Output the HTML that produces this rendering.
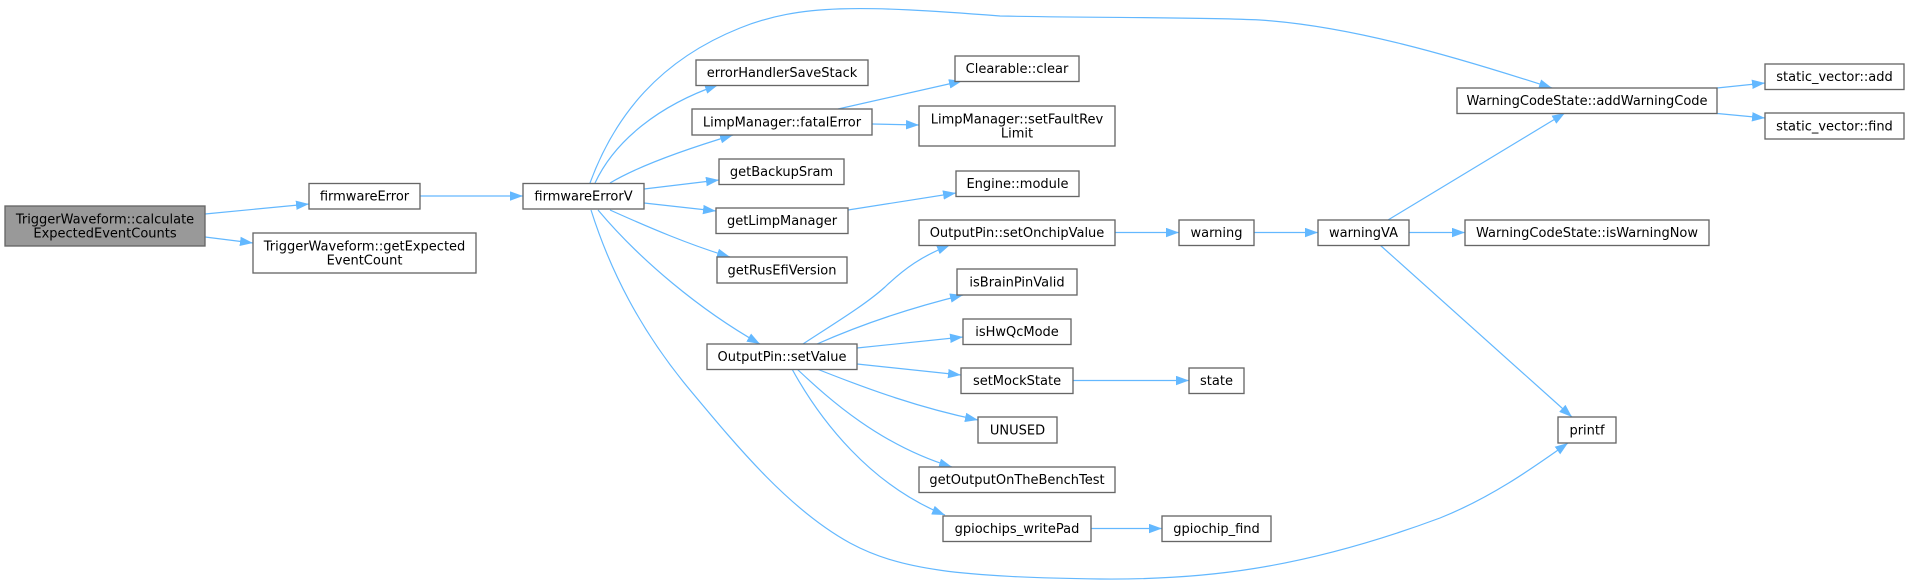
<!DOCTYPE html>
<html>
<head>
<meta charset="utf-8">
<style>
  html,body{margin:0;padding:0;background:#fff;}
  svg{display:block;}
  text{font-family:"DejaVu Sans","Liberation Sans",sans-serif;font-size:13px;fill:#000;text-anchor:middle;}
  .b{fill:#fff;stroke:#666;stroke-width:1.33;}
  .r{fill:#999;stroke:#666;stroke-width:1.33;}
  .e{fill:none;stroke:#63b8ff;stroke-width:1.2;}
</style>
</head>
<body>
<svg width="1909" height="585" viewBox="0 0 1909 585" xmlns="http://www.w3.org/2000/svg">
<defs>
  <marker id="a" markerWidth="14" markerHeight="10" refX="13" refY="4.7" orient="auto" markerUnits="userSpaceOnUse">
    <path d="M0,0 L13,4.7 L0,9.4 z" fill="#63b8ff"/>
  </marker>
</defs>

<!-- edges -->
<g class="edges">
  <path class="e" marker-end="url(#a)" d="M205,214 L309,204"/>
  <path class="e" marker-end="url(#a)" d="M205,237 L253,243"/>
  <path class="e" marker-end="url(#a)" d="M420,196 L523,196"/>
  <!-- top long curve -->
  <path class="e" marker-end="url(#a)" d="M590,183 C615,115 660,60 740,28 C800,4 860,5 1000,16 C1100,18 1200,17 1260,20 C1350,26 1450,55 1552,88"/>
  <path class="e" marker-end="url(#a)" d="M595,183 C615,140 660,105 718,85"/>
  <path class="e" marker-end="url(#a)" d="M610,183 C640,165 690,148 733,135"/>
  <path class="e" marker-end="url(#a)" d="M644,189 L719,180"/>
  <path class="e" marker-end="url(#a)" d="M644,203 L716,211"/>
  <path class="e" marker-end="url(#a)" d="M610,210 C650,228 690,245 730,257"/>
  <path class="e" marker-end="url(#a)" d="M598,210 C640,260 700,310 760,344"/>
  <!-- bottom long curve -->
  <path class="e" marker-end="url(#a)" d="M591,210 C610,270 640,330 690,390 C740,450 790,510 850,543 C900,570 960,577 1100,579 C1200,580 1300,570 1440,518 C1490,498 1530,470 1568,443"/>
  <path class="e" marker-end="url(#a)" d="M838,109 L962,81"/>
  <path class="e" marker-end="url(#a)" d="M872,124 L919,125"/>
  <path class="e" marker-end="url(#a)" d="M848,210 L956,193"/>
  <path class="e" marker-end="url(#a)" d="M803,344 C835,323 865,305 885,287 C905,268 922,256 950,245"/>
  <path class="e" marker-end="url(#a)" d="M817,344 C860,325 910,308 963,295"/>
  <path class="e" marker-end="url(#a)" d="M857,348 L963,337"/>
  <path class="e" marker-end="url(#a)" d="M857,364 L961,375"/>
  <path class="e" marker-end="url(#a)" d="M817,369 C870,390 920,408 978,420"/>
  <path class="e" marker-end="url(#a)" d="M797,369 C830,400 880,445 952,467"/>
  <path class="e" marker-end="url(#a)" d="M792,369 C820,420 870,485 945,515"/>
  <path class="e" marker-end="url(#a)" d="M1115,232.5 L1179,232.5"/>
  <path class="e" marker-end="url(#a)" d="M1254,232.5 L1318,232.5"/>
  <path class="e" marker-end="url(#a)" d="M1073,380.5 L1189,380.5"/>
  <path class="e" marker-end="url(#a)" d="M1091,528.5 L1162,528.5"/>
  <path class="e" marker-end="url(#a)" d="M1388,220 L1565,113"/>
  <path class="e" marker-end="url(#a)" d="M1380,245 L1572,417"/>
  <path class="e" marker-end="url(#a)" d="M1409,232.5 L1465,232.5"/>
  <path class="e" marker-end="url(#a)" d="M1717,88 L1765,83"/>
  <path class="e" marker-end="url(#a)" d="M1712,113 L1765,118"/>
</g>

<!-- nodes -->
<rect class="r" x="5" y="206" width="200" height="40"/>
<text x="105" y="223.5">TriggerWaveform::calculate</text>
<text x="105" y="237.5">ExpectedEventCounts</text>

<rect class="b" x="309" y="183.5" width="111" height="25.5"/>
<text x="364.5" y="200.5">firmwareError</text>

<rect class="b" x="253" y="233" width="223" height="40"/>
<text x="364.5" y="250.5">TriggerWaveform::getExpected</text>
<text x="364.5" y="264.5">EventCount</text>

<rect class="b" x="523" y="183.5" width="121" height="25.5"/>
<text x="583.5" y="200.5">firmwareErrorV</text>

<rect class="b" x="696" y="60" width="172" height="25.5"/>
<text x="782" y="77">errorHandlerSaveStack</text>

<rect class="b" x="692" y="109" width="180" height="26"/>
<text x="782" y="126.5">LimpManager::fatalError</text>

<rect class="b" x="719" y="159" width="125" height="25.5"/>
<text x="781.5" y="176">getBackupSram</text>

<rect class="b" x="716" y="208" width="132" height="25.5"/>
<text x="782" y="225">getLimpManager</text>

<rect class="b" x="717" y="257" width="130" height="26"/>
<text x="782" y="274.5">getRusEfiVersion</text>

<rect class="b" x="707" y="344" width="150" height="25.5"/>
<text x="782" y="361">OutputPin::setValue</text>

<rect class="b" x="955" y="56" width="124" height="25.5"/>
<text x="1017" y="73">Clearable::clear</text>

<rect class="b" x="919" y="106" width="196" height="40"/>
<text x="1017" y="123.5">LimpManager::setFaultRev</text>
<text x="1017" y="137.5">Limit</text>

<rect class="b" x="956" y="171" width="123" height="25.5"/>
<text x="1017.5" y="188">Engine::module</text>

<rect class="b" x="919" y="220" width="196" height="25.5"/>
<text x="1017" y="237">OutputPin::setOnchipValue</text>

<rect class="b" x="957" y="269" width="120" height="26"/>
<text x="1017" y="286.5">isBrainPinValid</text>

<rect class="b" x="963" y="319" width="108" height="25.5"/>
<text x="1017" y="336">isHwQcMode</text>

<rect class="b" x="961" y="368" width="112" height="25.5"/>
<text x="1017" y="385">setMockState</text>

<rect class="b" x="978" y="417" width="79" height="26"/>
<text x="1017.5" y="434.5">UNUSED</text>

<rect class="b" x="919" y="467" width="196" height="25.5"/>
<text x="1017" y="484">getOutputOnTheBenchTest</text>

<rect class="b" x="943" y="516" width="148" height="25.5"/>
<text x="1017" y="533">gpiochips_writePad</text>

<rect class="b" x="1179" y="220" width="75" height="25.5"/>
<text x="1216.5" y="237">warning</text>

<rect class="b" x="1318" y="220" width="91" height="25.5"/>
<text x="1363.5" y="237">warningVA</text>

<rect class="b" x="1189" y="368" width="55" height="25.5"/>
<text x="1216.5" y="385">state</text>

<rect class="b" x="1162" y="516" width="109" height="25.5"/>
<text x="1216.5" y="533">gpiochip_find</text>

<rect class="b" x="1457" y="88" width="260" height="25.5"/>
<text x="1587" y="105">WarningCodeState::addWarningCode</text>

<rect class="b" x="1465" y="220" width="244" height="25.5"/>
<text x="1587" y="237">WarningCodeState::isWarningNow</text>

<rect class="b" x="1558" y="417" width="58" height="26"/>
<text x="1587" y="434.5">printf</text>

<rect class="b" x="1765" y="64" width="139" height="25.5"/>
<text x="1834.5" y="81">static_vector::add</text>

<rect class="b" x="1765" y="113" width="139" height="26"/>
<text x="1834.5" y="130.5">static_vector::find</text>
</svg>
</body>
</html>
